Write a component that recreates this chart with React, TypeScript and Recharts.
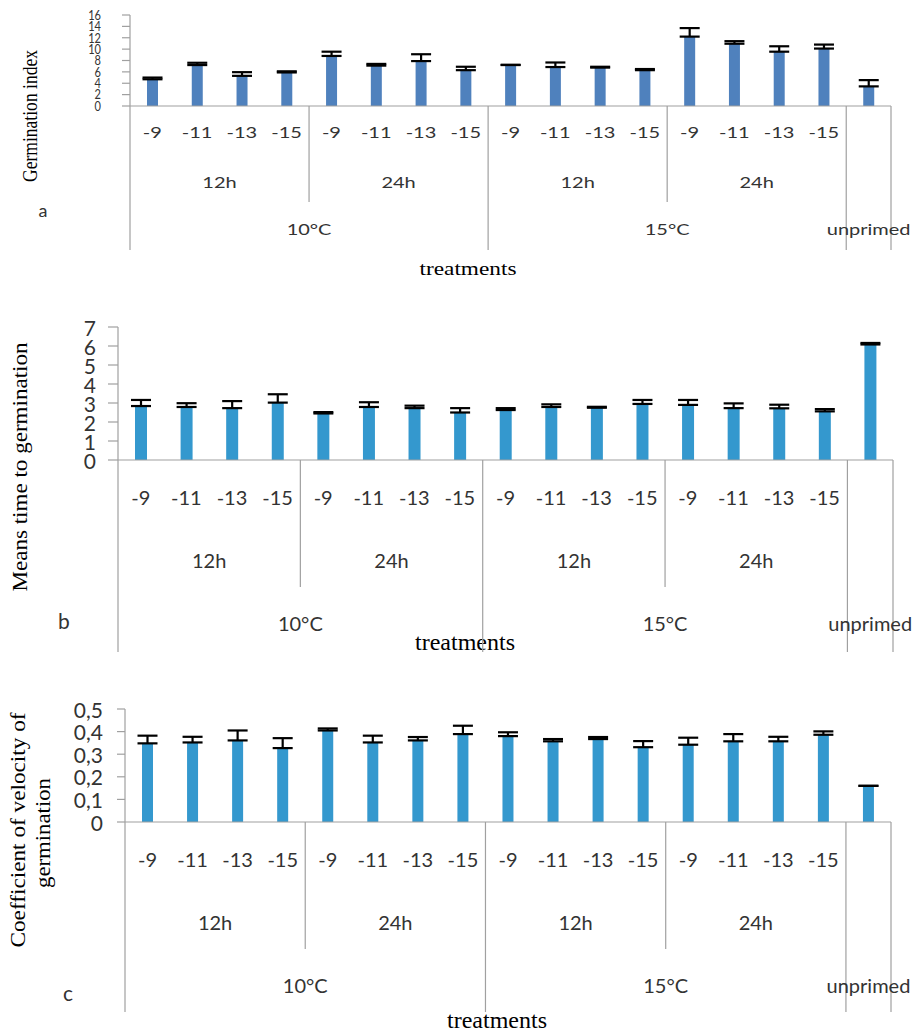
import React from "react";
import { BarChart, Bar, XAxis, YAxis, ErrorBar } from "recharts";

// category labels (17 treatments: 4 doses x 2 durations x 2 temperatures + control)
const doses = ["-9", "-11", "-13", "-15", "-9", "-11", "-13", "-15", "-9", "-11", "-13", "-15", "-9", "-11", "-13", "-15", ""];
const durations = ["12h", "24h", "12h", "24h"];
const temperatures = ["10°C", "15°C"];
const controlLabel = "unprimed";

// a – germination index
const germIndex = [4.7, 7.2, 5.3, 5.9, 8.8, 7.1, 7.9, 6.3, 7.2, 6.85, 6.75, 6.3, 12.2, 10.95, 9.55, 10.1, 3.45];
const germIndexErr = [0.3, 0.4, 0.65, 0.2, 0.75, 0.3, 1.2, 0.6, 0.05, 0.8, 0.15, 0.2, 1.5, 0.45, 0.95, 0.7, 1.1];
const germIndexTicks = [0, 2, 4, 6, 8, 10, 12, 14, 16];

// b – mean time to germination
const meanTime = [2.84, 2.79, 2.73, 3.02, 2.45, 2.79, 2.73, 2.5, 2.63, 2.79, 2.75, 2.95, 2.9, 2.73, 2.72, 2.56, 6.08];
const meanTimeErr = [0.32, 0.2, 0.37, 0.44, 0.07, 0.25, 0.13, 0.23, 0.1, 0.14, 0.05, 0.21, 0.26, 0.25, 0.19, 0.12, 0.08];
const meanTimeTicks = [0, 1, 2, 3, 4, 5, 6, 7];

// c – coefficient of velocity of germination
const cvg = [0.348, 0.352, 0.361, 0.327, 0.405, 0.352, 0.361, 0.389, 0.38, 0.357, 0.367, 0.331, 0.342, 0.357, 0.357, 0.386, 0.16];
const cvgErr = [0.034, 0.025, 0.044, 0.044, 0.009, 0.03, 0.015, 0.037, 0.017, 0.01, 0.009, 0.027, 0.031, 0.032, 0.02, 0.015, 0];
const cvgTicks = [0, 0.1, 0.2, 0.3, 0.4, 0.5];

const W = 921;
const LINE = "#a0a0a0";
const TXT = "#333";
const SANS = "Lato, 'Open Sans', sans-serif";
const SERIF = "'Liberation Serif', 'DejaVu Serif', serif";

interface Offsets {
  dose: number;
  dur: number;
  temp: number;
  short: number;
  long: number;
}

interface Panel {
  top: number;
  height: number;
  marginTop: number;
  left: number;
  right: number;
  axisH: number;
  values: number[];
  errs: number[];
  ticks: number[];
  fmt: (v: number) => string;
  color: string;
  barSize: number;
  off: Offsets;
  font: number;
  sy: number;
  yFont: number;
  ySx: number;
  yTickSize: number;
  yTickMargin: number;
}

const squash = (sx: number, sy: number, origin = "center") =>
  sx === 1 && sy === 1
    ? undefined
    : { transform: `scale(${sx}, ${sy})`, transformBox: "fill-box" as const, transformOrigin: origin };

function makeXTick(p: Panel) {
  const band = (W - p.left - p.right) / doses.length;
  return function XTick(props: any) {
    const { x, y, payload } = props;
    const i = Number(payload.value);
    const b0 = x - band / 2;
    const txt = (tx: number, ty: number, s: string, key: string) => (
      <text
        key={key}
        x={tx}
        y={ty}
        textAnchor="middle"
        dominantBaseline="central"
        fontFamily={SANS}
        fontSize={p.font}
        fill={TXT}
        style={squash(1, p.sy)}
      >
        {s}
      </text>
    );
    const items: React.ReactNode[] = [];
    if (doses[i]) items.push(txt(x, y + p.off.dose, doses[i], "d"));
    if (i % 4 === 0) {
      const len = i % 8 === 0 ? p.off.long : p.off.short;
      items.push(<line key="l" x1={b0} x2={b0} y1={y} y2={y + len} stroke={LINE} strokeWidth={1.2} />);
    }
    if (i % 4 === 0 && i < 16) items.push(txt(b0 + 2 * band, y + p.off.dur, durations[i / 4], "du"));
    if (i % 8 === 0 && i < 16) items.push(txt(b0 + 4 * band, y + p.off.temp, temperatures[i / 8], "t"));
    if (i === 16) {
      items.push(
        <line key="r" x1={x + band / 2} x2={x + band / 2} y1={y} y2={y + p.off.long} stroke={LINE} strokeWidth={1.2} />
      );
      items.push(txt(x, y + p.off.temp, controlLabel, "u"));
    }
    return <g>{items}</g>;
  };
}

function makeYTick(p: Panel) {
  return function YTick(props: any) {
    const { x, y, payload } = props;
    return (
      <text
        x={x}
        y={y}
        textAnchor="end"
        dominantBaseline="central"
        fontFamily={SANS}
        fontSize={p.yFont}
        fill={TXT}
        style={squash(p.ySx, 1, "right center")}
      >
        {p.fmt(payload.value)}
      </text>
    );
  };
}

function PanelChart({ p }: { p: Panel }) {
  const data = p.values.map((v, i) => ({ id: i, value: v, err: [0, p.errs[i]] }));
  return (
    <div style={{ position: "absolute", left: 0, top: p.top }}>
      <BarChart width={W} height={p.height} data={data} margin={{ top: p.marginTop, right: p.right, left: 0, bottom: 0 }}>
        <XAxis
          dataKey="id"
          interval={0}
          height={p.axisH}
          tickLine={false}
          tickSize={0}
          tickMargin={0}
          axisLine={{ stroke: LINE, strokeWidth: 1.2 }}
          tick={makeXTick(p)}
        />
        <YAxis
          width={p.left}
          domain={[p.ticks[0], p.ticks[p.ticks.length - 1]]}
          ticks={p.ticks}
          interval={0}
          tickSize={p.yTickSize}
          tickMargin={p.yTickMargin}
          tickLine={{ stroke: LINE, strokeWidth: 1.2 }}
          axisLine={{ stroke: LINE, strokeWidth: 1.2 }}
          tick={makeYTick(p)}
        />
        <Bar dataKey="value" fill={p.color} barSize={p.barSize} isAnimationActive={false}>
          <ErrorBar dataKey="err" width={10} strokeWidth={2.2} stroke="#000" direction="y" isAnimationActive={false} />
        </Bar>
      </BarChart>
    </div>
  );
}

const intFmt = (v: number) => String(v);
const commaFmt = (v: number) => (v === 0 ? "0" : v.toFixed(1).replace(".", ","));

const panels: Panel[] = [
  {
    top: 0, height: 280, marginTop: 15, left: 130, right: 30, axisH: 174,
    values: germIndex, errs: germIndexErr, ticks: germIndexTicks, fmt: intFmt,
    color: "#4f81bd", barSize: 11,
    off: { dose: 27, dur: 77, temp: 124, short: 96, long: 144 },
    font: 20, sy: 0.72, yFont: 13, ySx: 0.85, yTickSize: 8, yTickMargin: 21,
  },
  {
    top: 310, height: 345, marginTop: 17, left: 118, right: 28, axisH: 195,
    values: meanTime, errs: meanTimeErr, ticks: meanTimeTicks, fmt: intFmt,
    color: "#3498ce", barSize: 12,
    off: { dose: 37, dur: 100, temp: 163, short: 127, long: 192 },
    font: 20, sy: 1, yFont: 21, ySx: 1, yTickSize: 10, yTickMargin: 12,
  },
  {
    top: 680, height: 352, marginTop: 29, left: 125, right: 30, axisH: 210,
    values: cvg, errs: cvgErr, ticks: cvgTicks, fmt: commaFmt,
    color: "#3498ce", barSize: 11,
    off: { dose: 37, dur: 100, temp: 163, short: 127, long: 190 },
    font: 20, sy: 1, yFont: 21, ySx: 1, yTickSize: 8, yTickMargin: 14,
  },
];

function Labels() {
  const rot = (x: number, y: number, s: string, len: number, size: number) => (
    <text
      transform={`translate(${x},${y}) rotate(-90)`}
      textAnchor="middle"
      fontFamily={SERIF}
      fontSize={size}
      fill="#000"
      textLength={len}
      lengthAdjust="spacingAndGlyphs"
    >
      {s}
    </text>
  );
  const letter = (x: number, y: number, s: string, size: number) => (
    <text x={x} y={y} textAnchor="middle" dominantBaseline="central" fontFamily={SANS} fontSize={size} fill={TXT}>
      {s}
    </text>
  );
  const axisTitle = (x: number, y: number, len: number, size: number) => (
    <text
      x={x}
      y={y}
      textAnchor="middle"
      dominantBaseline="central"
      fontFamily={SERIF}
      fontSize={size}
      fill="#000"
      textLength={len}
      lengthAdjust="spacingAndGlyphs"
    >
      treatments
    </text>
  );
  return (
    <svg width={W} height={1032} style={{ position: "absolute", left: 0, top: 0 }}>
      {rot(37, 116, "Germination index", 132, 21)}
      {rot(27, 467, "Means time to germination", 249, 22)}
      {rot(25, 830, "Coefficient of velocity of", 235, 22)}
      {rot(50, 833, "germination", 110, 22)}
      {letter(43, 210, "a", 18)}
      {letter(64, 620, "b", 21)}
      {letter(68, 992, "c", 21)}
      {axisTitle(468, 268, 97, 19)}
      {axisTitle(465, 642, 100, 23)}
      {axisTitle(497, 1020, 100, 23)}
    </svg>
  );
}

export default function App() {
  return (
    <div style={{ position: "absolute", left: 0, top: 0, width: W, height: 1032, background: "#fff", overflow: "hidden" }}>
      <Labels />
      {panels.map((p, i) => (
        <PanelChart key={i} p={p} />
      ))}
    </div>
  );
}
